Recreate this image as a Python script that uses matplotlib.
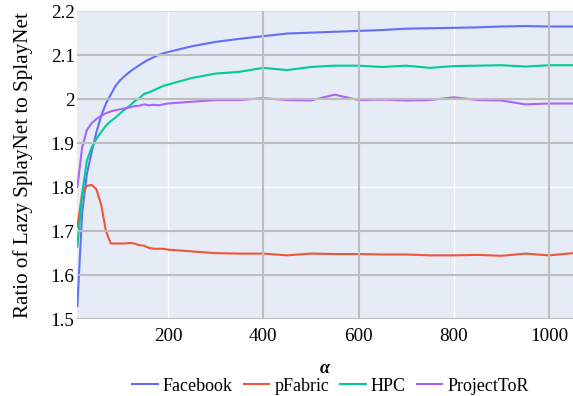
import matplotlib
matplotlib.use('Agg')
import matplotlib.pyplot as plt

# alpha 取值
alpha = [10, 20, 30, 40, 50, 60, 70, 80, 90, 100, 110, 120, 130, 140, 150,
         160, 170, 180, 190, 200, 250, 300, 350, 400, 450, 500, 550, 600,
         650, 700, 750, 800, 850, 900, 950, 1000, 1050]

facebook = [1.53, 1.74, 1.83, 1.88, 1.925, 1.962, 1.99, 2.01, 2.03, 2.043,
            2.053, 2.062, 2.07, 2.077, 2.084, 2.09, 2.095, 2.10, 2.104, 2.107,
            2.12, 2.13, 2.137, 2.143, 2.149, 2.151, 2.153, 2.155, 2.157, 2.16,
            2.161, 2.162, 2.163, 2.165, 2.166, 2.165, 2.165]

pfabric = [1.71, 1.785, 1.803, 1.805, 1.795, 1.76, 1.70, 1.672, 1.672, 1.672,
           1.672, 1.673, 1.672, 1.668, 1.667, 1.662, 1.66, 1.66, 1.66, 1.658,
           1.654, 1.65, 1.649, 1.649, 1.645, 1.649, 1.648, 1.648, 1.647, 1.647,
           1.645, 1.645, 1.646, 1.644, 1.649, 1.645, 1.65]

hpc = [1.665, 1.785, 1.86, 1.89, 1.91, 1.925, 1.94, 1.95, 1.958, 1.968,
       1.977, 1.985, 1.995, 2.002, 2.012, 2.015, 2.02, 2.025, 2.03, 2.033,
       2.048, 2.058, 2.062, 2.071, 2.066, 2.073, 2.076, 2.076, 2.073, 2.076,
       2.071, 2.075, 2.076, 2.077, 2.074, 2.077, 2.077]

projecttor = [1.80, 1.89, 1.93, 1.945, 1.955, 1.962, 1.968, 1.972, 1.975, 1.977,
              1.979, 1.981, 1.984, 1.985, 1.988, 1.986, 1.987, 1.986, 1.988, 1.99,
              1.994, 1.998, 1.998, 2.002, 1.998, 1.997, 2.010, 1.998, 1.999, 1.997,
              1.998, 2.004, 1.998, 1.997, 1.988, 1.99, 1.99]

series = [('Facebook', facebook, '#636EFA'),
          ('pFabric', pfabric, '#EF553B'),
          ('HPC', hpc, '#00CC96'),
          ('ProjectToR', projecttor, '#AB63FA')]

xticks = [200, 400, 600, 800, 1000]
yticks = [1.5, 1.6, 1.7, 1.8, 1.9, 2.0, 2.1, 2.2]
yticklabels = ['1.5', '1.6', '1.7', '1.8', '1.9', '2', '2.1', '2.2']

plt.rcParams['font.family'] = ['Liberation Serif', 'DejaVu Serif']

fig = plt.figure(figsize=(5.73, 3.96), dpi=100)
ax = fig.add_axes([0.135, 0.194, 0.865, 0.778])
ax.set_facecolor('#E5ECF6')

for name, vals, color in series:
    ax.plot(alpha, vals, color=color, lw=1.5, label=name, zorder=2)

# 网格线（有灰有白，照原图）
grey = '#BDBDBD'
for x in xticks:
    c = grey if x in (400, 600, 1000) else 'white'
    ax.axvline(x, color=c, lw=1.5 if c == grey else 1.0, zorder=3 if c == grey else 1)
for y in yticks:
    if y in (1.8,):
        ax.axhline(y, color='white', lw=1.0, zorder=1)
    elif y == 2.2:
        ax.axhline(y, color='#D5D9E0', lw=1.2, zorder=1)
    else:
        ax.axhline(y, color=grey, lw=1.5, zorder=3)

ax.set_xlim(10, 1050)
ax.set_ylim(1.5, 2.2)
ax.set_xticks(xticks)
ax.set_yticks(yticks)
ax.set_yticklabels(yticklabels)
ax.tick_params(length=0, labelsize=13.8, pad=2)
ax.tick_params(axis='x', pad=6)
for s in ax.spines.values():
    s.set_visible(False)

ax.set_ylabel('Ratio of Lazy SplayNet to SplayNet', fontsize=15.2, labelpad=13)
fig.text(0.567, 0.07, 'α', fontsize=13, fontweight='bold', style='italic',
         ha='center', va='center')

fig.legend(loc='center', bbox_to_anchor=(0.577, 0.025), ncol=4, frameon=False,
           fontsize=13, handlelength=1.4, handletextpad=0.3, columnspacing=0.6,
           borderaxespad=0)

fig.savefig('out.png')
